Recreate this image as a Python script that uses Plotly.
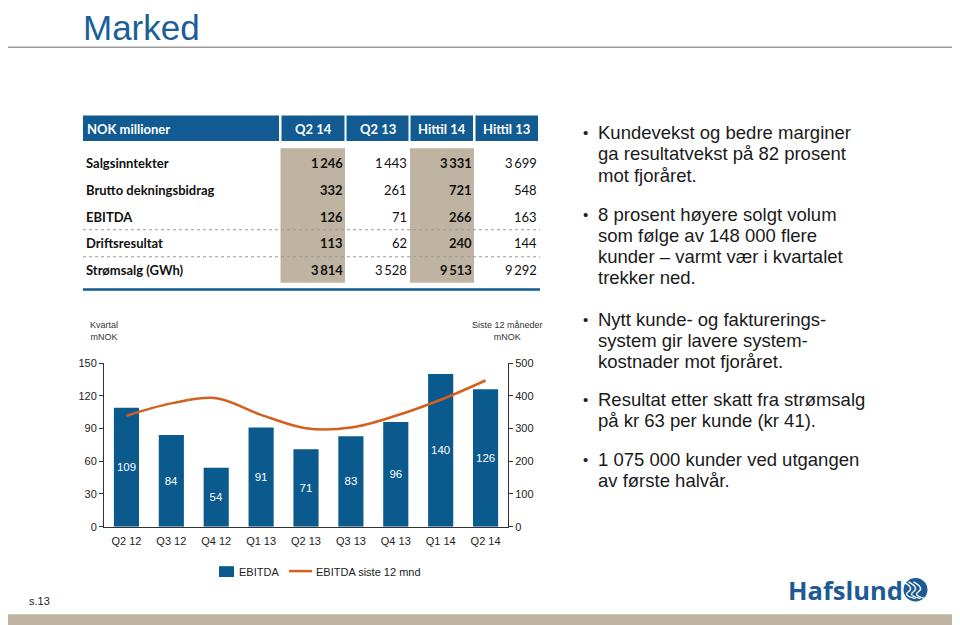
import plotly.graph_objects as go

W, H = 960, 625

# ---------------- data ----------------
quarters = ["Q2 12", "Q3 12", "Q4 12", "Q1 13", "Q2 13", "Q3 13", "Q4 13", "Q1 14", "Q2 14"]
ebitda_q = [109, 84, 54, 91, 71, 83, 96, 140, 126]
ebitda_ltm = [339, 377, 393, 342, 301, 303, 339, 388, 447]

table_cols = ["Q2 14", "Q2 13", "Hittil 14", "Hittil 13"]
table_rows = ["Salgsinntekter", "Brutto dekningsbidrag", "EBITDA", "Driftsresultat", "Strømsalg (GWh)"]
col_q2_14 = [1246, 332, 126, 113, 3814]
col_q2_13 = [1443, 261, 71, 62, 3528]
col_hittil_14 = [3331, 721, 266, 240, 9513]
col_hittil_13 = [3699, 548, 163, 144, 9292]

bullets = [
    ["Kundevekst og bedre marginer", "ga resultatvekst på 82 prosent", "mot fjoråret."],
    ["8 prosent høyere solgt volum", "som følge av 148 000 flere", "kunder – varmt vær i kvartalet", "trekker ned."],
    ["Nytt kunde- og fakturerings-", "system gir lavere system-", "kostnader mot fjoråret."],
    ["Resultat etter skatt fra strømsalg", "på kr 63 per kunde (kr 41)."],
    ["1 075 000 kunder ved utgangen", "av første halvår."],
]

# ---------------- style ----------------
BLUE = "#0B5A8D"
HEAD_BLUE = "#115A92"
TITLE_BLUE = "#1B5E98"
ORANGE = "#D4601F"
BEIGE = "#BFB3A1"
ARIAL = "Liberation Sans, Arial, sans-serif"
CAL = "Lato, Carlito, Calibri, sans-serif"

# the figure is shown 8 px in from the top-left corner of the window (page margin)
OX, OY = 8.0, 8.0


def px(x):
    return (x - OX) / W


def py(y):
    return 1 - (y - OY) / H


def fmt(v):
    return f"{v:,}".replace(",", "\u2009")


fig = go.Figure()

fig.add_trace(go.Bar(
    x=quarters, y=ebitda_q, name="EBITDA",
    marker=dict(color=BLUE, line=dict(width=0)),
    text=[str(v) for v in ebitda_q], textposition="inside",
    insidetextanchor="middle", textangle=0,
    textfont=dict(color="white", size=11.5, family=ARIAL),
    showlegend=False, yaxis="y",
))
fig.add_trace(go.Scatter(
    x=quarters, y=ebitda_ltm, name="EBITDA siste 12 mnd", mode="lines",
    line=dict(color=ORANGE, width=2.5, shape="spline", smoothing=1.0),
    showlegend=False, yaxis="y2",
))

shapes = []
ann = []

# title and top rule
ann.append(dict(x=px(81), y=py(21.5), xref="paper", yref="paper", xanchor="left", yanchor="middle",
                text="Marked", showarrow=False, font=dict(family=ARIAL, size=35, color=TITLE_BLUE)))
shapes.append(dict(type="line", xref="paper", yref="paper", x0=-0.02, x1=1.02, y0=py(42), y1=py(42),
                   line=dict(color="#9C9C9C", width=1.5)))

# ---------------- table ----------------
hdr_y0, hdr_y1 = 111.5, 137.5
cells = [(83, 279), (281.5, 344.5), (346.5, 408.5), (410.5, 473), (475.5, 538)]
for (a, b) in cells:
    shapes.append(dict(type="rect", xref="paper", yref="paper", x0=px(a), x1=px(b),
                       y0=py(hdr_y1), y1=py(hdr_y0), fillcolor=HEAD_BLUE, line=dict(width=0), layer="below"))
ann.append(dict(x=px(85), y=py(125), xref="paper", yref="paper", xanchor="left", yanchor="middle",
                text="<b>NOK millioner</b>", showarrow=False, font=dict(family=CAL, size=13, color="white")))
for (a, b), lab in zip(cells[1:], table_cols):
    ann.append(dict(x=px((a + b) / 2), y=py(125), xref="paper", yref="paper", xanchor="center",
                    yanchor="middle", text=f"<b>{lab}</b>", showarrow=False,
                    font=dict(family=CAL, size=13, color="white")))
# beige highlight columns
for (a, b) in [(280.5, 345), (410, 474)]:
    shapes.append(dict(type="rect", xref="paper", yref="paper", x0=px(a), x1=px(b),
                       y0=py(282), y1=py(145), fillcolor=BEIGE, line=dict(width=0), layer="below"))
row_y = [160, 187, 214.5, 241.5, 269]
cols = [col_q2_14, col_q2_13, col_hittil_14, col_hittil_13]
col_right = [345, 409, 474, 538.5]
col_bold = [True, False, True, False]
for i, lab in enumerate(table_rows):
    ann.append(dict(x=px(84), y=py(row_y[i]), xref="paper", yref="paper", xanchor="left", yanchor="middle",
                    text=f"<b>{lab}</b>", showarrow=False, font=dict(family=CAL, size=13, color="#111")))
    for c, vals in enumerate(cols):
        t = fmt(vals[i])
        if col_bold[c]:
            t = f"<b>{t}</b>"
        ann.append(dict(x=px(col_right[c]), y=py(row_y[i]), xref="paper", yref="paper", xanchor="right",
                        yanchor="middle", text=t, showarrow=False,
                        font=dict(family=CAL, size=13, color="#111")))
for yy in [228, 255.5]:
    shapes.append(dict(type="line", xref="paper", yref="paper", x0=px(83), x1=px(540), y0=py(yy), y1=py(yy),
                       line=dict(color="#9A9A9A", width=1, dash="dot")))
shapes.append(dict(type="line", xref="paper", yref="paper", x0=px(83), x1=px(540), y0=py(289), y1=py(289),
                   line=dict(color=HEAD_BLUE, width=2.5)))

# ---------------- chart extras ----------------
ann.append(dict(x=px(104), y=py(331.5), xref="paper", yref="paper", xanchor="center", yanchor="middle",
                text="Kvartal<br>mNOK", showarrow=False, font=dict(family=ARIAL, size=9, color="#333")))
ann.append(dict(x=px(507), y=py(331.5), xref="paper", yref="paper", xanchor="center", yanchor="middle",
                text="Siste 12 måneder<br>mNOK", showarrow=False, font=dict(family=ARIAL, size=9, color="#333")))

# legend (manual)
shapes.append(dict(type="rect", xref="paper", yref="paper", x0=px(219), x1=px(234), y0=py(582), y1=py(571),
                   fillcolor=BLUE, line=dict(width=0)))
ann.append(dict(x=px(237), y=py(577), xref="paper", yref="paper", xanchor="left", yanchor="middle",
                text="EBITDA", showarrow=False, font=dict(family=ARIAL, size=11, color="#222")))
shapes.append(dict(type="line", xref="paper", yref="paper", x0=px(289), x1=px(312), y0=py(576), y1=py(576),
                   line=dict(color=ORANGE, width=2.5)))
ann.append(dict(x=px(314), y=py(577), xref="paper", yref="paper", xanchor="left", yanchor="middle",
                text="EBITDA siste 12 mnd", showarrow=False, font=dict(family=ARIAL, size=11, color="#222")))

# ---------------- bullets ----------------
bullet_y0 = [129, 212, 319, 401, 462]
for b, lines in enumerate(bullets):
    ann.append(dict(x=px(585), y=py(bullet_y0[b]), xref="paper", yref="paper", xanchor="center",
                    yanchor="middle", text="•", showarrow=False,
                    font=dict(family=ARIAL, size=15, color="#222")))
    for j, line in enumerate(lines):
        ann.append(dict(x=px(596), y=py(bullet_y0[b] + 21.7 * j), xref="paper", yref="paper",
                        xanchor="left", yanchor="middle", text=line, showarrow=False,
                        font=dict(family=ARIAL, size=18.5, color="#1a1a1a")))

# ---------------- footer ----------------
ann.append(dict(x=px(27), y=py(606), xref="paper", yref="paper", xanchor="left", yanchor="middle",
                text="s.13", showarrow=False, font=dict(family=ARIAL, size=11, color="#222")))
shapes.append(dict(type="rect", xref="paper", yref="paper", x0=-0.02, x1=1.02, y0=-0.02, y1=py(620),
                   fillcolor=BEIGE, line=dict(width=0)))
ann.append(dict(x=px(786), y=py(595), xref="paper", yref="paper", xanchor="left", yanchor="middle",
                text="<b>Hafslund</b>", showarrow=False,
                font=dict(family="Open Sans, Liberation Sans, sans-serif", size=25.5, color="#1E5A93")))
cx, cy, r = 915.5, 595, 12
shapes.append(dict(type="circle", xref="paper", yref="paper", x0=px(cx - r), x1=px(cx + r),
                   y0=py(cy + r), y1=py(cy - r), fillcolor="#1E5A93", line=dict(width=0)))
for k, off in enumerate([-5, 0, 5]):
    shapes.append(dict(type="path", xref="paper", yref="paper",
                       path=(f"M {px(cx - 7 + off)},{py(cy - 8)} Q {px(cx + 4 + off)},{py(cy - 2)} "
                             f"{px(cx - 2 + off)},{py(cy + 2)} T {px(cx + 5 + off)},{py(cy + 9)}"),
                       line=dict(color="white", width=1.3)))

fig.update_layout(
    width=W, height=H,
    margin=dict(l=0, r=0, t=0, b=0),
    paper_bgcolor="white", plot_bgcolor="rgba(0,0,0,0)",
    bargap=0.44,
    showlegend=False,
    xaxis=dict(domain=[px(104), px(508)], type="category", range=[-0.5, 8.5],
               showline=True, linecolor="#333", linewidth=1, ticks="", showgrid=False,
               tickfont=dict(family=ARIAL, size=11, color="#222"), anchor="y", ticklabelstandoff=4),
    yaxis=dict(domain=[py(530.7), py(364)], range=[0, 150], dtick=30, showline=True, linecolor="#333",
               linewidth=1, ticks="outside", ticklen=4, tickcolor="#333", showgrid=False, zeroline=False,
               tickfont=dict(family=ARIAL, size=11, color="#222")),
    yaxis2=dict(domain=[py(530.7), py(364)], range=[0, 500], dtick=100, overlaying="y", side="right",
                showline=True, linecolor="#333", linewidth=1, ticks="outside", ticklen=4, tickcolor="#333",
                showgrid=False, zeroline=False, anchor="x",
                tickfont=dict(family=ARIAL, size=11, color="#222")),
    shapes=shapes,
    annotations=ann,
)

fig.write_html("out.html")
